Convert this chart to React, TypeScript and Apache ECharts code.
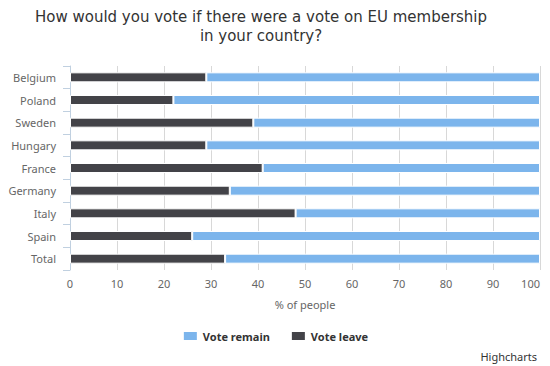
import React, { useEffect, useRef } from "react";
import * as echarts from "echarts";

const categories = ["Belgium", "Poland", "Sweden", "Hungary", "France", "Germany", "Italy", "Spain", "Total"];
const voteLeave = [29, 22, 39, 29, 41, 34, 48, 26, 33];
const voteRemain = [71, 78, 61, 71, 59, 66, 52, 74, 67];
const xTicks = [0, 10, 20, 30, 40, 50, 60, 70, 80, 90, 100];

const TITLE_FONT = '"DejaVu Sans", "Lucida Grande", Verdana, sans-serif';
const FONT = '"Noto Sans", "Open Sans", sans-serif';

export default function App() {
  const ref = useRef<HTMLDivElement>(null);
  useEffect(() => {
    if (!ref.current) return;
    const chart = echarts.init(ref.current, undefined, { renderer: "svg" });
    chart.setOption({
      animation: false,
      backgroundColor: "#ffffff",
      textStyle: { fontFamily: FONT },
      legend: {
        data: ["Vote remain", "Vote leave"],
        top: 325,
        left: "center",
        itemWidth: 15,
        itemHeight: 10,
        itemGap: 20,
        icon: "rect",
        textStyle: { fontFamily: FONT, fontSize: 11, fontWeight: "bold", color: "#333333" },
      },
      graphic: [
        {
          type: "text",
          x: 261,
          y: 7,
          style: {
            text: "How would you vote if there were a vote on EU membership\nin your country?",
            fontFamily: TITLE_FONT,
            fontSize: 15,
            lineHeight: 19,
            fill: "#333333",
            align: "center",
            verticalAlign: "top",
          },
        },
        {
          type: "text",
          right: 13,
          top: 351,
          style: { text: "Highcharts", fontFamily: FONT, fontSize: 11, fill: "#333333" },
        },
      ],
      grid: { left: 70, right: 10, top: 66, bottom: 96, containLabel: false, outerBoundsMode: "none" },
      xAxis: {
        type: "value",
        min: xTicks[0],
        max: xTicks[xTicks.length - 1],
        interval: 10,
        name: "% of people",
        nameLocation: "middle",
        nameGap: 29,
        nameTextStyle: { fontFamily: FONT, fontSize: 11, color: "#666666" },
        axisLine: { show: false },
        axisTick: { show: false },
        axisLabel: { fontFamily: FONT, fontSize: 11, color: "#666666", margin: 8, alignMaxLabel: "right" },
        splitLine: { show: true, lineStyle: { color: "#D8D8D8", width: 1 } },
      },
      yAxis: {
        type: "category",
        data: categories,
        inverse: true,
        axisLine: { show: true, lineStyle: { color: "#C0D0E0" } },
        axisTick: { show: true, length: 7, lineStyle: { color: "#C0D0E0" } },
        axisLabel: { fontFamily: FONT, fontSize: 11, color: "#666666", margin: 14 },
        splitLine: { show: false },
      },
      series: [
        {
          name: "Vote leave",
          type: "bar",
          stack: "total",
          data: voteLeave,
          barWidth: 10,
          itemStyle: { color: "#434348", borderColor: "#ffffff", borderWidth: 1 },
        },
        {
          name: "Vote remain",
          type: "bar",
          stack: "total",
          data: voteRemain,
          barWidth: 10,
          itemStyle: { color: "#7cb5ec", borderColor: "#ffffff", borderWidth: 1 },
        },
      ],
    });
    return () => chart.dispose();
  }, []);
  return <div ref={ref} style={{ width: 550, height: 366, position: "absolute", left: 0, top: 0 }} />;
}
